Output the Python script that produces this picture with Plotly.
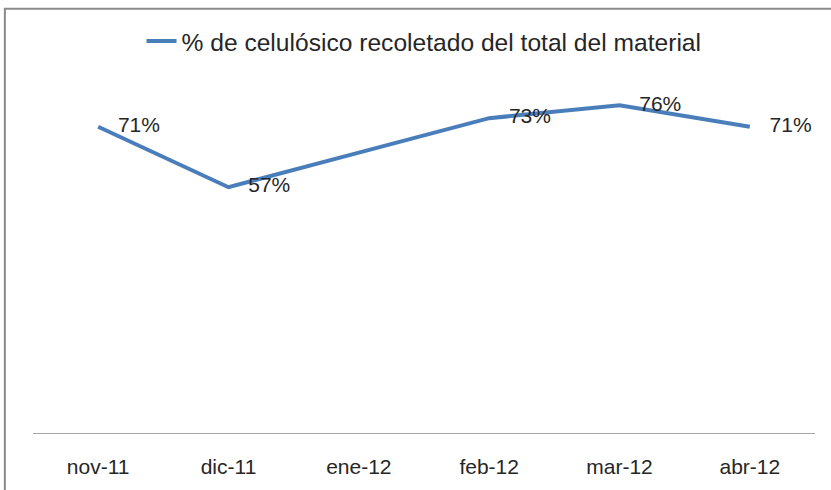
import plotly.graph_objects as go

# ── data ────────────────────────────────────────────────────────────────────
months = ["nov-11", "dic-11", "ene-12", "feb-12", "mar-12", "abr-12"]
pct_celulosico = [0.71, 0.57, 0.65, 0.73, 0.76, 0.71]
show_label = [True, True, False, True, True, True]   # ene-12 has no label
series_name = "% de celulósico recoletado del total del material"

labels = [f"{v:.0%}" if s else "" for v, s in zip(pct_celulosico, show_label)]

FONT = "Liberation Sans, Arial, sans-serif"
BLUE = "#4A7EBB"

fig = go.Figure()
fig.add_trace(
    go.Scatter(
        x=months,
        y=pct_celulosico,
        mode="lines+markers+text",
        name=series_name,
        line=dict(color=BLUE, width=4),
        marker=dict(size=30, color="rgba(0,0,0,0)"),
        text=labels,
        textposition="middle right",
        textfont=dict(family=FONT, size=21, color="#262626"),
        cliponaxis=False,
    )
)

# chart border (right/bottom edges fall outside the picture)
fig.add_shape(
    type="rect", xref="paper", yref="paper",
    x0=-0.036, x1=1.1, y0=-0.3, y1=1.23,
    line=dict(color="#8a8a8a", width=2), fillcolor="rgba(0,0,0,0)",
    layer="below",
)

fig.update_xaxes(
    type="category", range=[-0.5, len(months) - 0.5],
    showline=True, linecolor="#a6a6a6", linewidth=1,
    showgrid=False, ticks="", ticklabelstandoff=15,
    tickfont=dict(family=FONT, size=21, color="#262626"),
)
fig.update_yaxes(range=[0, 0.8], visible=False, showgrid=False)

fig.update_layout(
    width=831, height=490,
    margin=dict(l=33, r=16, t=88, b=54),
    paper_bgcolor="white", plot_bgcolor="white",
    showlegend=True,
    legend=dict(
        orientation="h", x=0.5, xanchor="center",
        yref="container", y=1 - 41 / 490, yanchor="middle",
        font=dict(family=FONT, size=24.6, color="#262626"),
        itemwidth=30,
    ),
)

fig.write_html(
    "out.html",
    config={"displayModeBar": False},
    post_script="document.body.style.margin='0';",
)
